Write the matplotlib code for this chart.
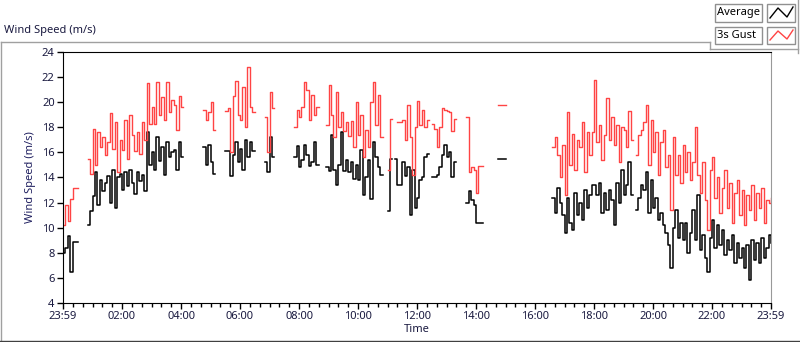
import numpy as np
import matplotlib
matplotlib.use("Agg")
import matplotlib.pyplot as plt
from matplotlib.lines import Line2D
from matplotlib.patches import Rectangle

n = np.nan

# 5-minute samples, 00:00 .. 24:00 (289 values), m/s
gust = [
    10.2, 11.8, 10.5, 12.3, 13.2, 13.2, n, n, n, n, 15.5, 14.3,
    17.9, 15.0, 17.6, 16.4, 17.2, 15.8, 16.8, 19.1, 16.3, 18.4, 14.4, 17.0,
    16.2, 18.6, 15.5, 19.0, 17.4, 16.1, 17.6, 15.9, 18.4, 17.0, 21.5, 18.3,
    19.6, 18.3, 21.6, 19.0, 20.4, 18.6, 21.6, 19.2, 20.2, 19.8, 17.8, 20.5,
    19.6, n, n, n, n, n, n, n, n, 19.4, 18.6, 19.2,
    20.0, 17.8, n, n, n, n, 19.3, 19.5, 16.0, 20.5, 21.7, 19.0,
    18.6, 21.2, 18.0, 22.8, 19.6, 19.2, n, n, n, n, 18.8, 16.0,
    20.8, 19.5, n, n, n, n, n, n, n, n, 18.0, 19.4,
    18.8, 19.6, 21.6, 21.0, 18.6, 20.6, 19.0, 19.6, n, n, n, 18.2,
    21.4, 19.0, 17.2, 20.8, 18.0, 19.2, 17.7, 18.4, 17.3, 18.5, 16.4, 20.0,
    17.4, 19.0, 15.6, 17.8, 16.4, 20.0, 21.6, 18.2, 20.6, 17.2, n, n,
    14.6, 18.7, n, n, 18.4, 18.4, 18.6, 17.0, 19.8, 17.2, 14.2, 18.0,
    20.1, 18.2, 19.4, 18.0, 18.6, n, 18.3, 17.9, 16.4, 18.0, 19.5, 19.4,
    19.3, 19.2, 17.7, 18.7, n, n, n, n, 18.8, 14.4, 14.8, 14.6,
    12.8, 14.9, 14.9, n, n, n, n, n, n, 19.8, 19.8, 19.8,
    n, n, n, n, n, n, n, n, n, n, n, n,
    n, n, n, n, n, n, n, 16.4, 17.2, 15.8, 14.0, 16.6,
    12.6, 19.2, 15.0, 17.5, 14.6, 17.0, 16.4, 18.4, 14.4, 17.6, 15.8, 17.6,
    21.8, 16.8, 18.2, 15.4, 17.4, 20.3, 17.0, 18.8, 16.6, 18.2, 15.2, 18.0,
    17.8, 16.4, 19.3, 17.0, n, 15.8, 17.4, 17.8, 18.4, 19.8, 15.0, 18.6,
    16.0, 17.6, 14.2, 16.8, 17.8, 14.8, 15.8, 11.4, 17.2, 14.2, 15.8, 13.6,
    16.6, 14.4, 16.0, 13.8, 15.2, 18.0, 14.2, 12.8, 15.2, 12.2, 9.8, 14.6,
    15.6, 12.4, 14.0, 11.2, 13.2, 14.6, 11.6, 13.6, 10.4, 12.8, 13.8, 11.0,
    13.0, 10.2, 12.6, 11.4, 13.4, 10.6, 12.8, 11.6, 13.2, 10.4, 12.2, 12.0,
    12.4,
]

average = [
    8.0, 8.4, 9.3, 6.5, 8.9, 8.9, n, n, n, n, 10.2, 11.3,
    12.5, 14.4, 11.8, 13.8, 12.9, 13.6, 14.1, 12.0, 14.6, 11.6, 14.0, 14.3,
    13.0, 14.4, 13.3, 14.6, 13.6, 12.7, 14.4, 13.7, 14.2, 12.9, 17.6, 15.0,
    16.0, 14.6, 17.2, 15.3, 16.4, 14.2, 16.8, 15.6, 16.0, 16.2, 14.6, 16.8,
    15.6, n, n, n, n, n, n, n, n, 16.4, 15.0, 16.6,
    15.2, 14.3, n, n, n, n, 16.1, 16.1, 14.1, 15.8, 16.8, 15.2,
    16.3, 14.6, 17.0, 15.6, 16.8, 16.1, n, n, n, n, 15.2, 14.4,
    17.2, 15.6, n, n, n, n, n, n, n, n, 15.6, 16.5,
    14.8, 15.4, 16.6, 15.8, 14.9, 15.2, 16.8, 15.0, n, n, n, 14.8,
    14.5, 17.4, 14.6, 13.4, 15.0, 17.6, 14.5, 15.4, 14.4, 15.2, 13.9, 15.0,
    13.8, 16.2, 12.6, 14.0, 15.4, 12.3, 16.8, 15.6, 14.8, 14.2, n, n,
    11.3, 15.5, n, 15.5, 13.4, 13.4, 15.2, 14.1, 14.8, 11.0, 14.6, 11.6,
    12.4, 13.8, 14.0, 15.6, 15.9, n, 14.0, 14.0, 14.2, 14.8, 15.8, 16.6,
    15.6, 16.0, 14.0, 15.2, n, n, n, n, 12.0, 12.9, 12.2, 11.8,
    10.4, 10.4, 10.4, n, n, n, n, n, n, 15.5, 15.5, 15.5,
    n, n, n, n, n, n, n, n, n, n, n, n,
    n, n, n, n, n, n, n, 12.4, 11.2, 13.2, 12.0, 11.0,
    9.6, 12.4, 10.4, 9.8, 12.8, 11.0, 12.0, 10.6, 13.0, 11.6, 12.6, 13.4,
    13.4, 12.6, 13.6, 11.2, 12.8, 11.4, 13.0, 12.2, 10.2, 13.6, 12.0, 14.6,
    12.6, 13.4, 15.2, 12.6, n, 11.4, 12.4, 13.4, 13.0, 14.4, 11.2, 13.8,
    11.6, 12.4, 10.6, 11.2, 10.2, 9.6, 8.6, 6.8, 10.0, 11.4, 9.2, 10.4,
    9.0, 10.4, 8.0, 9.6, 11.4, 9.0, 12.6, 8.2, 9.4, 7.6, 6.5, 9.2,
    10.6, 8.4, 10.2, 8.6, 9.8, 7.8, 9.0, 8.2, 9.4, 7.2, 8.8, 7.6,
    8.4, 6.8, 8.6, 5.8, 9.0, 7.4, 8.8, 7.2, 9.2, 7.6, 8.4, 9.4,
    8.8,
]

tick_hours = [0, 2, 4, 6, 8, 10, 12, 14, 16, 18, 20, 22, 24]
tick_labels = ["23:59", "02:00", "04:00", "06:00", "08:00", "10:00", "12:00",
               "14:00", "16:00", "18:00", "20:00", "22:00", "23:59"]
y_ticks = [4, 6, 8, 10, 12, 14, 16, 18, 20, 22, 24]

hours = np.arange(len(gust)) * 5 / 60.0

plt.rcParams['font.family'] = ['Noto Sans', 'DejaVu Sans']
txt = '#1a1a40'
W, H = 800, 342

fig = plt.figure(figsize=(W / 100, H / 100), dpi=100)
ax = fig.add_axes([63 / W, 1 - 303 / H, (771 - 63) / W, (303 - 52) / H])

ax.plot(hours, average, drawstyle='steps-post', color='black', lw=1.1)
ax.plot(hours, gust, drawstyle='steps-post', color='#ff4444', lw=1.0)

ax.set_xlim(0, 24)
ax.set_ylim(4, 24)
ax.set_xticks(tick_hours)
ax.set_xticklabels(tick_labels)
ax.set_xticks(np.arange(0, 24.01, 1 / 3), minor=True)
ax.set_yticks(y_ticks)
ax.tick_params(axis='both', which='major', labelsize=8, colors='black',
               labelcolor=txt, length=4, width=1, pad=2)
ax.tick_params(axis='x', which='minor', length=3, width=1, color='black')
ax.spines['right'].set_color('#999999')
ax.set_xlabel('Time', fontsize=8, color=txt, labelpad=1)
ax.set_ylabel('Wind Speed (m/s)', fontsize=8, color='#202060', labelpad=4)


def px(x, y):
    return x / W, 1 - y / H


def fline(xs, ys, color='#a0a0a0', lw=1.0):
    fx = [x / W for x in xs]
    fy = [1 - y / H for y in ys]
    fig.add_artist(Line2D(fx, fy, transform=fig.transFigure, color=color, lw=lw))


# outer frame of the chart panel
fline([0.5, 710], [42, 42])
fline([710, 710], [42, 49])
fline([710, 798], [49, 49])
fline([798, 798], [0, 53])
fline([0.5, 0.5], [42, 342])
fline([0, 800], [341, 341], color='#404040')

fig.text(4 / W, 1 - 31 / H, 'Wind Speed (m/s)', fontsize=8, color=txt, va='center', ha='left')

# legend boxes
for (y0, y1, label, col) in [(4, 22, 'Average', 'black'), (27, 44, '3s Gust', '#ff4444')]:
    x0, y_ = px(715, y1)
    fig.add_artist(Rectangle((x0, y_), 47 / W, (y1 - y0) / H, transform=fig.transFigure,
                             facecolor='white', edgecolor='#909090', lw=1))
    fig.text(717 / W, 1 - (y0 + y1) / 2 / H, label, fontsize=8, color='black', va='center', ha='left')
    sx, sy = px(767, y1)
    fig.add_artist(Rectangle((sx, sy), 28 / W, (y1 - y0) / H, transform=fig.transFigure,
                             facecolor='white', edgecolor='#909090', lw=1))
    zx = [770, 778, 787, 793]
    zy = [y1 - 4, y0 + 4, y1 - 5, y0 + 3]
    fline(zx, zy, color=col, lw=1)

fig.savefig('out.png', dpi=100)
